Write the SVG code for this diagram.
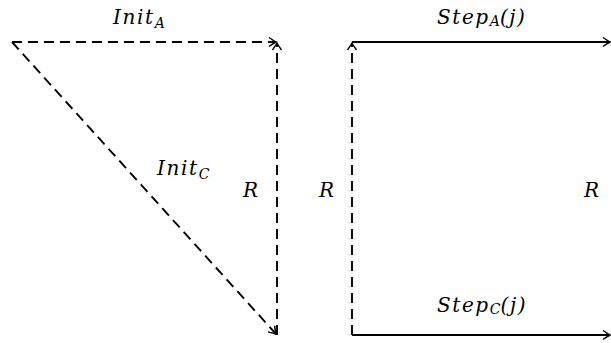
<svg xmlns="http://www.w3.org/2000/svg" width="611" height="343" viewBox="0 0 611 343">
<style>
.l{fill:none;stroke:#000;stroke-width:1.9}
.d{stroke-dasharray:10 6}
text{font-family:"DejaVu Serif","Liberation Serif",serif;font-style:italic;font-size:20px;fill:#000;letter-spacing:1.6px}
.s{font-size:14px;letter-spacing:0}
</style>
<defs>
<marker id="ah" markerUnits="userSpaceOnUse" markerWidth="14" markerHeight="14" viewBox="-8 -7 10 14" refX="0" refY="0" orient="auto" overflow="visible">
<path d="M-7,-4.5 Q-2,-1 0,0 Q-2,1 -7,4.5" fill="none" stroke="#000" stroke-width="1.4"/>
</marker>
</defs>
<g id="connectors">
<path class="l d" d="M12,42 H276" marker-end="url(#ah)"/>
<path class="l d" d="M277,335 V43" marker-end="url(#ah)"/>
<path class="l d" d="M12,42 L276,334" marker-end="url(#ah)"/>
<path class="l d" d="M352,335 V43" marker-end="url(#ah)"/>
<path class="l" d="M352,42 H610" marker-end="url(#ah)"/>
<path class="l" d="M352,335 H610" marker-end="url(#ah)"/>
</g>
<g id="labels">
<text x="113" y="24">Init<tspan class="s" dy="4">A</tspan></text>
<text x="157" y="175">Init<tspan class="s" dy="4">C</tspan></text>
<text x="243" y="197">R</text>
<text x="319" y="197">R</text>
<text x="584" y="197">R</text>
<text x="437" y="24">Step<tspan class="s" dy="2">A</tspan><tspan dy="-2">(j)</tspan></text>
<text x="437" y="312">Step<tspan class="s" dy="2">C</tspan><tspan dy="-2">(j)</tspan></text>
</g>
</svg>
